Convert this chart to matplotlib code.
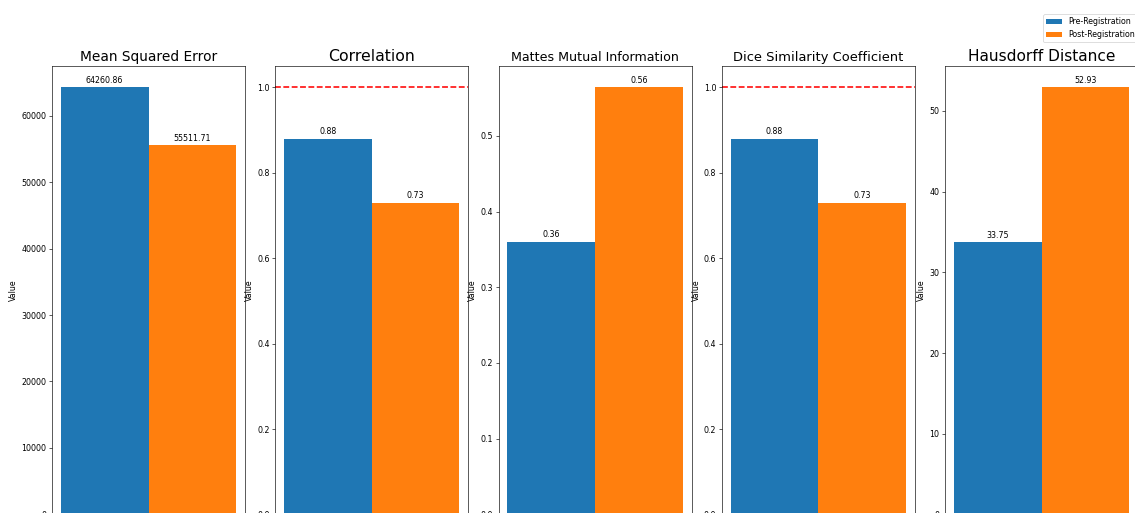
import matplotlib
matplotlib.use('Agg')
from matplotlib import pyplot as plt

# registration metrics, before and after
metrics = ['Mean Squared Error', 'Correlation', 'Mattes Mutual Information',
           'Dice Similarity Coefficient', 'Hausdorff Distance']
pre_vals = [64260.86, 0.88, 0.36, 0.88, 33.75]
post_vals = [55511.71, 0.73, 0.564, 0.73, 52.93]
groups = ['Pre-Registration', 'Post-Registration']
title_sizes = [17.5, 20, 16, 16.5, 19.5]
ref_line = [None, 1.0, None, 1.0, None]

fig = plt.figure(figsize=(20, 9.04), dpi=56.75)

left0 = 52 / 1135
step = 223.25 / 1135
w = 193 / 1135
bottom = -1.4 / 513
h = 448.4 / 513

for i, name in enumerate(metrics):
    ax = fig.add_axes([left0 + i * step, bottom, w, h])
    b1 = ax.bar(0, pre_vals[i], width=1, color='C0', label=groups[0])
    b2 = ax.bar(1, post_vals[i], width=1, color='C1', label=groups[1])
    for v, x in zip([pre_vals[i], post_vals[i]], [0, 1]):
        ax.annotate(f'{v:.2f}', (x, v), xytext=(0, 3), textcoords='offset points',
                    ha='center', va='bottom')
    if ref_line[i] is not None:
        ax.axhline(ref_line[i], color='r', linestyle='--', linewidth=2)
    ax.set_title(name, fontsize=title_sizes[i])
    ax.set_ylabel('Value')
    ax.set_xticks([])

fig.legend([b1, b2], groups, loc='upper left', borderaxespad=0,
           bbox_to_anchor=(1043 / 1135, 1 - 14 / 513))

fig.savefig('out.png', dpi=56.75)
